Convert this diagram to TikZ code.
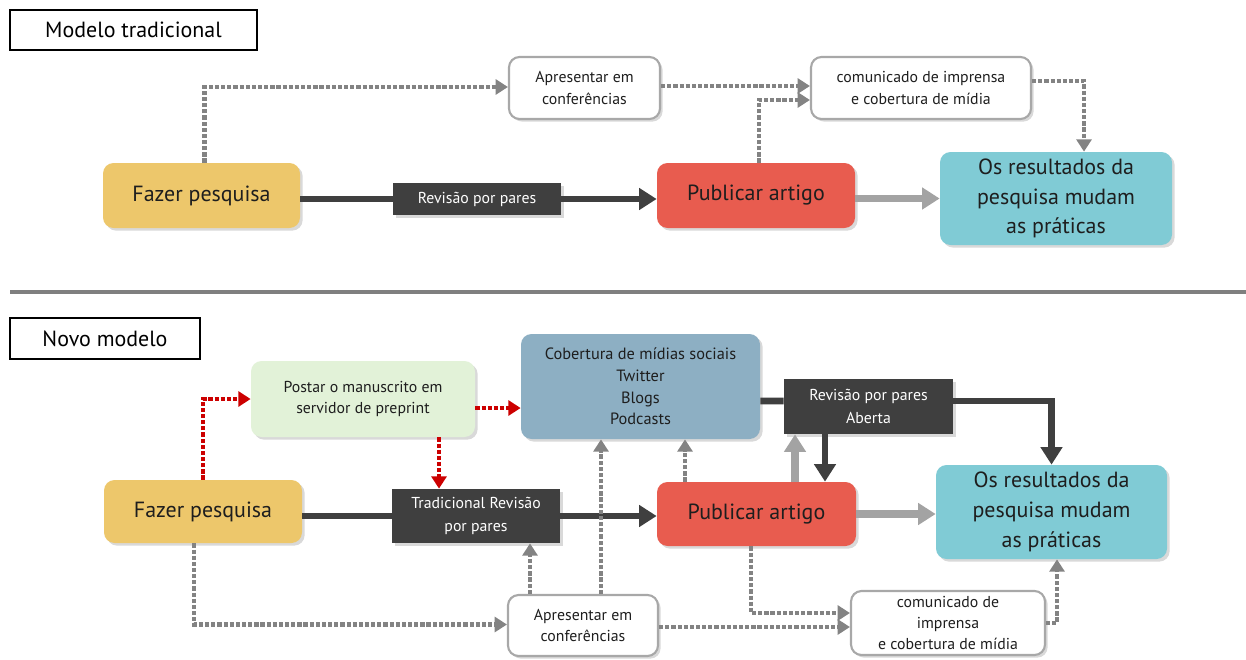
\documentclass[tikz,border=0pt]{standalone}
\usepackage{fontspec}
\setmainfont{PT Sans}
\usetikzlibrary{arrows.meta,calc,shadows}
\definecolor{cyellow}{HTML}{EDC76B}
\definecolor{cred}{HTML}{E85C4F}
\definecolor{cteal}{HTML}{80CBD5}
\definecolor{csteel}{HTML}{8DAFC3}
\definecolor{cgreen}{HTML}{E2F2D8}
\definecolor{cdark}{HTML}{3F3F3F}
\definecolor{carrgray}{HTML}{A3A3A3}
\definecolor{cdotgray}{HTML}{838383}
\definecolor{cdotred}{HTML}{CC0000}
\definecolor{ctxt}{HTML}{1E1E1E}
\definecolor{cborder}{HTML}{A8A8A8}
\definecolor{csep}{HTML}{7F7F7F}
\begin{document}
\begin{tikzpicture}[x=0.02cm,y=-0.02cm,
  wh/.style 2 args={minimum width=#1*0.02cm, minimum height=#2*0.02cm},
  shad/.style={drop shadow={opacity=0.3,shadow xshift=1.5pt,shadow yshift=-1.5pt}},
  box/.style={rounded corners=6pt, inner sep=0pt, align=center, text=ctxt, shad},
  big/.style={font=\fontsize{12.5}{17}\selectfont},
  small/.style={font=\fontsize{9}{12}\selectfont},
  wbox/.style={box, small, fill=white, draw=cborder, line width=1.2pt},
  dbox/.style={inner sep=0pt, align=center, fill=cdark, text=white, small, shad},
  titlebox/.style={draw=black, line width=0.8pt, fill=white, inner sep=0pt, font=\fontsize{12.5}{15}\selectfont},
  dotline/.style={draw=cdotgray, line width=2.4pt, dash pattern=on 2.4pt off 1.1pt},
  dotarr/.style={dotline, -{Triangle[length=7pt,width=8.5pt]}},
  reddotarr/.style={dotarr, draw=cdotred},
  darkline/.style={draw=cdark, line width=3.8pt},
  darkarr/.style={darkline, -{Triangle[length=10pt,width=12pt]}},
  grayarr/.style={draw=carrgray, line width=4.5pt, -{Triangle[length=10pt,width=12pt]}}
]
\useasboundingbox (0,0) rectangle (1246,659);

% ---------- top: traditional model ----------
\node[titlebox, wh={247}{40}] (t1) at (133.5,30) {Modelo tradicional};
\node[box, big, fill=cyellow, wh={197}{65}] (fz1) at (201.5,195.5) {Fazer pesquisa};
\node[dbox, wh={168}{32}] (rv1) at (477,199) {Revisão por pares};
\node[box, big, fill=cred, wh={198}{65}] (pub1) at (756,195.5) {Publicar artigo};
\node[box, big, fill=cteal, wh={232}{93}] (os1) at (1056,198.5) {Os resultados da\\pesquisa mudam\\as práticas};
\node[wbox, wh={151}{62}] (ap1) at (584.5,88) {Apresentar em\\conferências};
\node[wbox, wh={220}{62}] (cm1) at (921,88) {comunicado de imprensa\\e cobertura de mídia};

\draw[darkline] (fz1.east |- rv1.west) -- (rv1.west);
\draw[darkarr] (rv1.east) -- (rv1.east -| pub1.west);
\draw[grayarr] ($(pub1.east)+(0,3)$) -- ($(os1.west)+(0,0)$);
\coordinate (f1a) at ($(fz1.north)+(3,0)$);
\draw[dotarr] (f1a) |- ($(ap1.west)+(0,-1)$);
\draw[dotarr] ($(ap1.east)+(0,-2)$) -- ($(cm1.west)+(0,-2)$);
\coordinate (p1a) at ($(pub1.north)+(3,0)$);
\draw[dotarr] (p1a) |- ($(cm1.west)+(0,12)$);
\coordinate (o1a) at ($(os1.north)+(28,0)$);
\draw[dotarr] ($(cm1.east)+(0,-7)$) -| (o1a);

% separator
\coordinate (sepL) at (10,292);
\coordinate (sepR) at (1246,292);
\draw[draw=csep, line width=2.2pt] (sepL) -- (sepR);

% ---------- bottom: new model ----------
\node[titlebox, wh={190}{41}] (t2) at (105,338.5) {Novo modelo};
\node[box, big, fill=cyellow, wh={198}{63}] (fz2) at (203,511.5) {Fazer pesquisa};
\node[box, small, fill=cgreen, wh={224}{76}] (post) at (363,399) {Postar o manuscrito em\\servidor de preprint};
\node[dbox, wh={168}{54}, font=\fontsize{9}{13}\selectfont] (trv) at (476,516) {Tradicional Revisão\\por pares};
\node[box, fill=csteel, wh={239}{105}, font=\fontsize{9.3}{12.4}\selectfont] (cob) at (640.5,386.5) {Cobertura de mídias sociais\\Twitter\\Blogs\\Podcasts};
\node[dbox, wh={169}{55}, font=\fontsize{9}{13}\selectfont] (ab) at (868.5,406.5) {Revisão por pares\\Aberta};
\node[box, big, fill=cred, wh={199}{64}] (pub2) at (756.5,514) {Publicar artigo};
\node[box, big, fill=cteal, wh={231}{94}] (os2) at (1051.5,512) {Os resultados da\\pesquisa mudam\\as práticas};
\node[wbox, wh={150}{61}] (ap2) at (583,625.5) {Apresentar em\\conferências};
\node[wbox, wh={194}{64}] (cm2) at (948,623) {comunicado de\\imprensa\\e cobertura de mídia};

% main line
\draw[darkline] (fz2.east |- trv.west) -- (trv.west);
\draw[darkarr] (trv.east) -- (trv.east -| pub2.west);
\draw[grayarr] (pub2.east) -- (pub2.east -| os2.west);

% red dotted (preprint)
\draw[reddotarr] (fz2.north) |- (post.west);
\coordinate (pse) at ($(post.east)+(0,9)$);
\draw[reddotarr] (pse) -- (pse -| cob.west);
\coordinate (pst) at ($(post.south)+(76,0)$);
\draw[reddotarr] (pst) -- (pst |- trv.north);

% gray dotted
\coordinate (f2b) at ($(fz2.south)+(-9,0)$);
\draw[dotarr] (f2b) |- ($(ap2.west)+(0,-1)$);
\coordinate (a2a) at ($(ap2.north)+(-53,0)$);
\draw[dotarr] (a2a) -- (a2a |- trv.south);
\coordinate (a2b) at ($(ap2.north)+(18,0)$);
\draw[dotarr] (a2b) -- (a2b |- cob.south);
\coordinate (p2a) at ($(pub2.north)+(-71.5,0)$);
\draw[dotarr] (p2a) -- (p2a |- cob.south);
\coordinate (p2b) at ($(pub2.south)+(-5.5,0)$);
\draw[dotarr] (p2b) |- ($(cm2.west)+(0,-10)$);
\coordinate (a2e) at ($(ap2.east)+(0,1.5)$);
\draw[dotarr] (a2e) -- (a2e -| cm2.west);
\coordinate (o2b) at ($(os2.south)+(5.5,0)$);
\draw[dotarr] (cm2.east) -| (o2b);

% open peer review
\draw[darkline] ($(cob.east)+(0,14.5)$) -- ($(ab.west)+(0,-5.5)$);
\draw[darkarr] ($(ab.east)+(0,-5.5)$) -| (os2.north);
\coordinate (p2c) at ($(pub2.north)+(38.5,0)$);
\draw[grayarr] (p2c) -- (p2c |- ab.south);
\coordinate (abd) at ($(ab.south)+(-43.5,0)$);
\draw[darkarr] (abd) -- (abd |- pub2.north);
\end{tikzpicture}
\end{document}
